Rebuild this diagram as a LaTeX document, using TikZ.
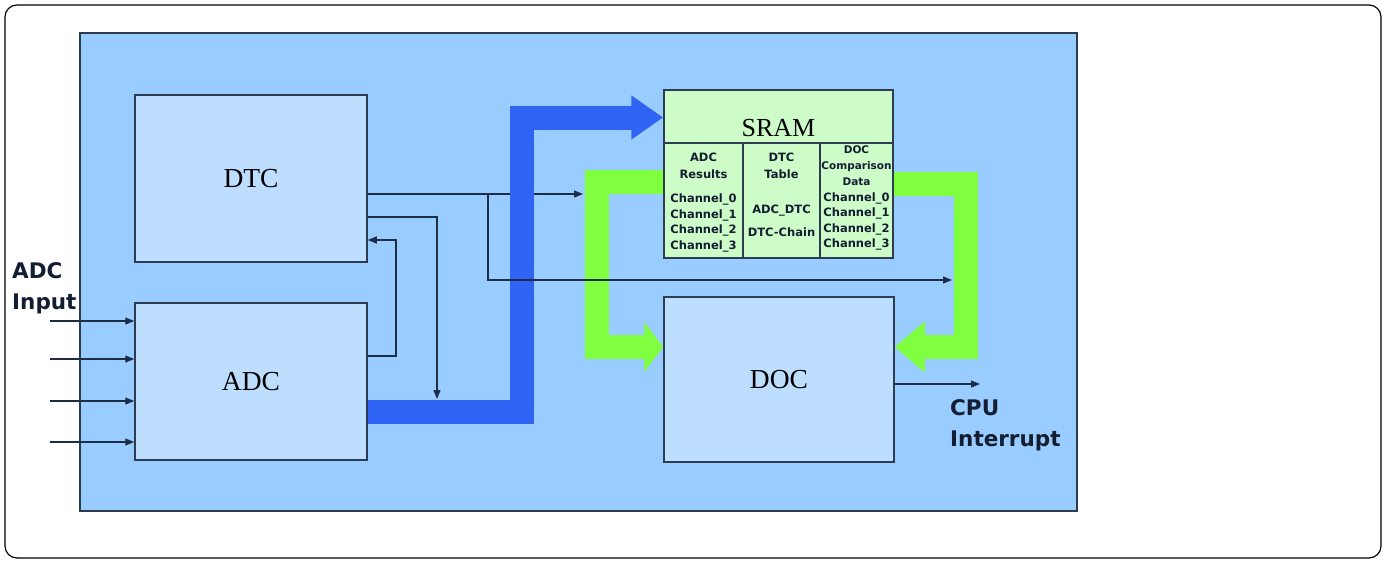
\documentclass[tikz,border=0pt]{standalone}
\usepackage{fontspec}
\setmainfont{Liberation Serif}
\newfontfamily\labelsans{DejaVu Sans}
\usetikzlibrary{arrows.meta}
\definecolor{bgblue}{RGB}{153,204,255}
\definecolor{boxblue}{RGB}{190,222,255}
\definecolor{sramgreen}{RGB}{206,252,200}
\definecolor{edgecol}{RGB}{45,60,80}
\definecolor{wirecol}{RGB}{30,45,70}
\definecolor{busblue}{RGB}{48,100,245}
\definecolor{busgreen}{RGB}{128,255,64}
\definecolor{labelcol}{RGB}{20,30,50}
\begin{document}
\begin{tikzpicture}[x=1pt,y=-1pt,
  block/.style={draw=edgecol, line width=1.5pt, fill=boxblue, inner sep=0pt,
    font=\fontsize{27.5}{30}\selectfont},
  srambox/.style={draw=edgecol, line width=1.5pt, fill=sramgreen, inner sep=0pt},
  cell/.style={font=\labelsans\bfseries\fontsize{11.5}{15.6}\selectfont, align=center,
    text=labelcol, inner sep=0pt},
  wire/.style={draw=wirecol, line width=1.2pt, -{Triangle[length=9pt,width=7pt]}},
  plainwire/.style={draw=wirecol, line width=1.2pt},
  bluebus/.style={draw=busblue, line width=24pt, line join=miter,
    -{Triangle[length=32pt,width=42pt]}},
  greenbus/.style={draw=busgreen, line width=24pt, line join=miter},
  extlabel/.style={font=\labelsans\bfseries\fontsize{21.5}{31}\selectfont, align=left,
    text=labelcol, inner sep=0pt}
]
\useasboundingbox (0,0) rectangle (1387,560);
% frame
\draw[line width=1.2pt, rounded corners=12pt] (5,5) rectangle (1381,558);
% background panel
\draw[draw=edgecol, line width=1.5pt, fill=bgblue] (80,33) rectangle (1077,511);

% blocks
\node[block, minimum width=232pt, minimum height=167pt] (DTC) at (251,178.5) {DTC};
\node[block, minimum width=232pt, minimum height=157pt] (ADC) at (251,381.5) {ADC};
\node[block, minimum width=230pt, minimum height=165pt] (DOC) at (779,379.5) {DOC};
\node[srambox, minimum width=229pt, minimum height=168pt] (SRAM) at (778.5,174) {};
\draw[plainwire, draw=edgecol, line width=1.5pt] (SRAM.west |- 0,143) -- (SRAM.east |- 0,143);
\draw[plainwire, draw=edgecol, line width=1.5pt] (743,143) -- (743,258);
\draw[plainwire, draw=edgecol, line width=1.5pt] (820,143) -- (820,258);
\node[font=\fontsize{26}{30}\selectfont, inner sep=0pt] (sramtitle) at (778.5,128) {SRAM};
\node[cell] (c1a) at (703.5,165.5) {ADC\\[1.4pt]Results};
\node[cell] (c1b) at (703.5,223) {Channel\_0\\Channel\_1\\Channel\_2\\Channel\_3};
\node[cell] (c2a) at (781.5,165.5) {DTC\\[1.4pt]Table};
\node[cell, font=\labelsans\bfseries\fontsize{11.5}{23}\selectfont] (c2b) at (781.5,220.5) {ADC\_DTC\\DTC-Chain};
\node[cell, font=\labelsans\bfseries\fontsize{10.5}{16}\selectfont] (c3a) at (856.5,166) {DOC\\Comparison\\Data};
\node[cell] (c3b) at (856.5,221.5) {Channel\_0\\Channel\_1\\Channel\_2\\Channel\_3};

% thin wires (below buses)
\coordinate (j1) at (488,194);
\draw[wire] (DTC.east |- j1) -- (583,194);
\draw[wire] (DTC.east |- 0,217) -- (437,217) -- (437,399);
\draw[wire] (ADC.east |- 0,356) -- (396,356) -- (396,240) -- (DTC.east |- 0,240);
\foreach \yy in {321,359,401,442} {
  \draw[wire] (50,\yy) -- (ADC.west |- 0,\yy);
}
\draw[wire] (DOC.east |- 0,384) -- (980,384);

% buses
\draw[bluebus] (ADC.east |- 0,411.5) -- (521.5,411.5) -- (521.5,117.5) -- (SRAM.west |- 0,117.5);
\draw[greenbus, -{Triangle[length=19pt,width=49pt]}] (SRAM.west |- 0,181.5) -- (597,181.5) -- (597,347) -- (DOC.west |- 0,347);
\draw[greenbus, -{Triangle[length=30pt,width=49pt]}] (SRAM.east |- 0,183.5) -- (966,183.5) -- (966,347) -- (DOC.east |- 0,347);

% branch wire (above buses)
\draw[wire] (j1) -- (488,280) -- (952,280);

% external labels
\node[extlabel, anchor=west] (adcin) at (12,288) {ADC\\Input};
\node[extlabel, anchor=west] (cpuint) at (950,425) {CPU\\Interrupt};
\end{tikzpicture}
\end{document}
